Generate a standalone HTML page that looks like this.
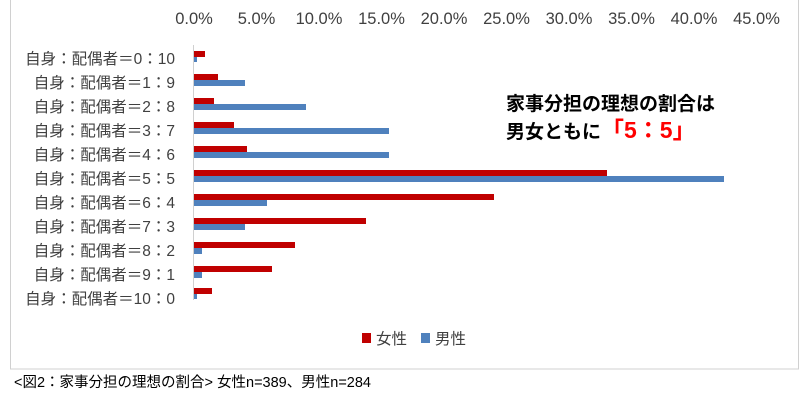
<!DOCTYPE html>
<html><head><meta charset="utf-8"><style>
body{margin:0;background:#fff;width:800px;height:400px;overflow:hidden}
text{font-family:"Liberation Sans","Noto Sans CJK JP",sans-serif}
</style></head><body>
<svg width="800" height="400" xmlns="http://www.w3.org/2000/svg">
<rect x="10.5" y="-1" width="788" height="370" fill="#fff" stroke="#d0d0d0"/>
<g font-size="16.5" fill="#404040" text-anchor="middle">
<text x="194" y="24">0.0%</text><text x="256.5" y="24">5.0%</text><text x="319" y="24">10.0%</text>
<text x="381.5" y="24">15.0%</text><text x="444" y="24">20.0%</text><text x="506.5" y="24">25.0%</text>
<text x="569" y="24">30.0%</text><text x="631.5" y="24">35.0%</text><text x="694" y="24">40.0%</text>
<text x="756.5" y="24">45.0%</text>
</g>
<line x1="193.5" y1="45" x2="193.5" y2="300" stroke="#d0d0d0"/>
<g font-size="15.5" fill="#404040" text-anchor="end">
<text x="175" y="64">自身：配偶者＝0：10</text>
<text x="175" y="88">自身：配偶者＝1：9</text>
<text x="175" y="112">自身：配偶者＝2：8</text>
<text x="175" y="136">自身：配偶者＝3：7</text>
<text x="175" y="160">自身：配偶者＝4：6</text>
<text x="175" y="184">自身：配偶者＝5：5</text>
<text x="175" y="208">自身：配偶者＝6：4</text>
<text x="175" y="232">自身：配偶者＝7：3</text>
<text x="175" y="256">自身：配偶者＝8：2</text>
<text x="175" y="280">自身：配偶者＝9：1</text>
<text x="175" y="304">自身：配偶者＝10：0</text>
</g>
<g fill="#c00000">
<rect x="194" y="51" width="11" height="6"/>
<rect x="194" y="74" width="24" height="6"/>
<rect x="194" y="98" width="20" height="6"/>
<rect x="194" y="122" width="40" height="6"/>
<rect x="194" y="146" width="53" height="6"/>
<rect x="194" y="170" width="413" height="6"/>
<rect x="194" y="194" width="300" height="6"/>
<rect x="194" y="218" width="172" height="6"/>
<rect x="194" y="242" width="101" height="6"/>
<rect x="194" y="266" width="78" height="6"/>
<rect x="194" y="288" width="18" height="6"/>
</g>
<g fill="#4f81bd">
<rect x="194" y="57" width="3" height="5"/>
<rect x="194" y="80" width="51" height="6"/>
<rect x="194" y="104" width="112" height="6"/>
<rect x="194" y="128" width="195" height="6"/>
<rect x="194" y="152" width="195" height="6"/>
<rect x="194" y="176" width="530" height="6"/>
<rect x="194" y="200" width="73" height="6"/>
<rect x="194" y="224" width="51" height="6"/>
<rect x="194" y="248" width="8" height="6"/>
<rect x="194" y="272" width="8" height="6"/>
<rect x="194" y="294" width="3" height="5"/>
</g>
<text x="506" y="110" font-size="19" font-weight="bold" fill="#000">家事分担の理想の割合は</text>
<text x="506" y="138" font-size="19" font-weight="bold" fill="#000">男女ともに<tspan fill="#ff0000" font-size="23">「5：5」</tspan></text>
<rect x="362" y="333" width="9" height="10" fill="#c00000"/>
<text x="376" y="344" font-size="15.5" fill="#404040">女性</text>
<rect x="421" y="333" width="9" height="10" fill="#4f81bd"/>
<text x="435" y="344" font-size="15.5" fill="#404040">男性</text>
<text x="14" y="387" font-size="14.5" fill="#000">&lt;図2：家事分担の理想の割合&gt; 女性n=389、男性n=284</text>
</svg>
</body></html>
